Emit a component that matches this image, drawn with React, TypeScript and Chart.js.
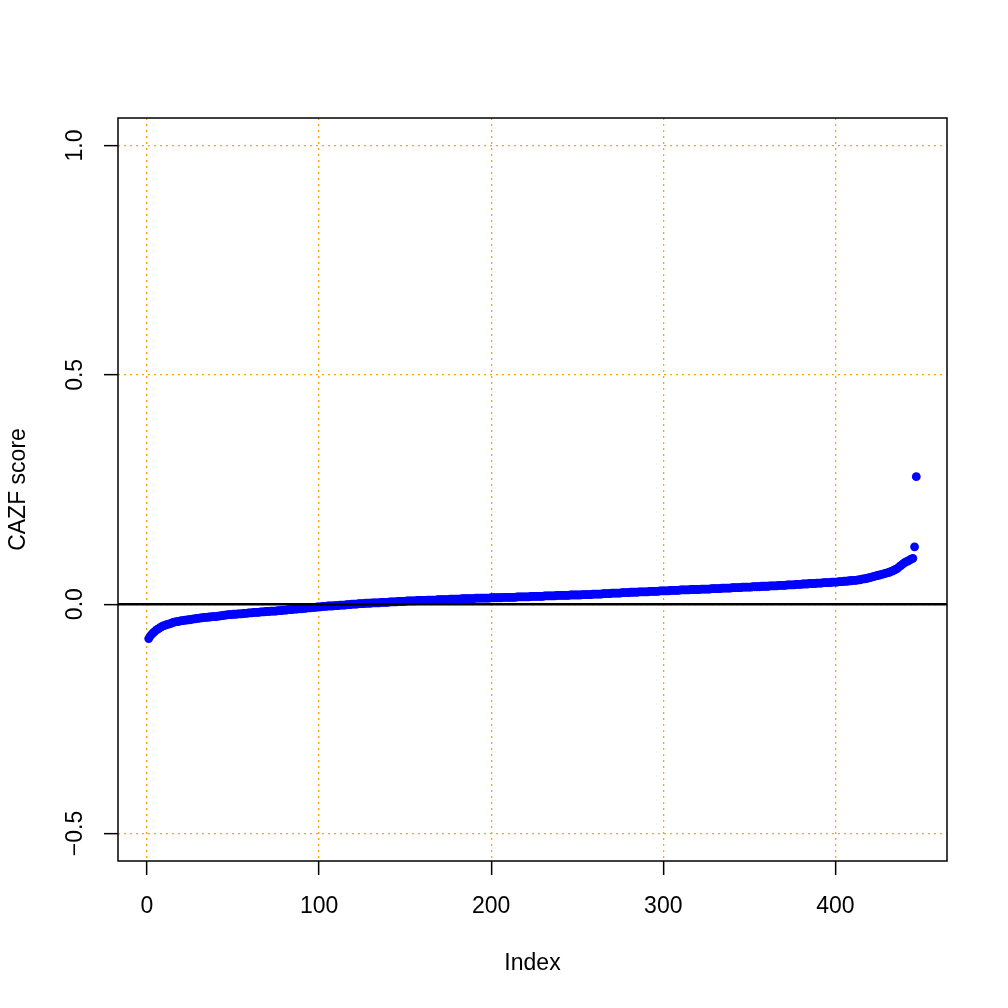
import React, { useEffect, useRef } from "react";
import { Chart, registerables } from "chart.js";

Chart.register(...registerables);

// Sorted CAZF scores (index 1..447)
const cazfScores: number[] = [
  -0.075, -0.069, -0.065, -0.061, -0.058, -0.055, -0.053, -0.050, -0.048, -0.047,
  -0.045, -0.044, -0.043, -0.042, -0.040, -0.039, -0.038, -0.038, -0.037, -0.036,
  -0.036, -0.035, -0.035, -0.034, -0.034, -0.033, -0.032, -0.032, -0.031, -0.031,
  -0.030, -0.030, -0.029, -0.029, -0.029, -0.028, -0.028, -0.027, -0.027, -0.027,
  -0.026, -0.026, -0.025, -0.025, -0.024, -0.024, -0.023, -0.023, -0.023, -0.022,
  -0.022, -0.022, -0.021, -0.021, -0.021, -0.020, -0.020, -0.020, -0.019, -0.019,
  -0.019, -0.018, -0.018, -0.018, -0.018, -0.017, -0.017, -0.017, -0.016, -0.016,
  -0.016, -0.015, -0.015, -0.015, -0.015, -0.014, -0.014, -0.014, -0.013, -0.013,
  -0.013, -0.012, -0.012, -0.012, -0.011, -0.011, -0.011, -0.010, -0.010, -0.010,
  -0.009, -0.009, -0.008, -0.008, -0.008, -0.007, -0.007, -0.007, -0.006, -0.006,
  -0.006, -0.005, -0.005, -0.005, -0.004, -0.004, -0.004, -0.004, -0.003, -0.003,
  -0.003, -0.002, -0.002, -0.002, -0.002, -0.001, -0.001, -0.001, 0.000, 0.000,
  0.000, 0.000, 0.001, 0.001, 0.001, 0.001, 0.002, 0.002, 0.002, 0.002,
  0.003, 0.003, 0.003, 0.003, 0.003, 0.004, 0.004, 0.004, 0.004, 0.004,
  0.005, 0.005, 0.005, 0.005, 0.005, 0.006, 0.006, 0.006, 0.006, 0.006,
  0.007, 0.007, 0.007, 0.007, 0.007, 0.007, 0.008, 0.008, 0.008, 0.008,
  0.008, 0.008, 0.009, 0.009, 0.009, 0.009, 0.009, 0.009, 0.010, 0.010,
  0.010, 0.010, 0.010, 0.010, 0.010, 0.011, 0.011, 0.011, 0.011, 0.011,
  0.011, 0.011, 0.012, 0.012, 0.012, 0.012, 0.012, 0.012, 0.012, 0.012,
  0.013, 0.013, 0.013, 0.013, 0.013, 0.013, 0.013, 0.013, 0.013, 0.014,
  0.014, 0.014, 0.014, 0.014, 0.014, 0.014, 0.015, 0.015, 0.015, 0.015,
  0.015, 0.015, 0.015, 0.015, 0.016, 0.016, 0.016, 0.016, 0.016, 0.016,
  0.016, 0.016, 0.017, 0.017, 0.017, 0.017, 0.017, 0.017, 0.017, 0.017,
  0.018, 0.018, 0.018, 0.018, 0.018, 0.018, 0.018, 0.019, 0.019, 0.019,
  0.019, 0.019, 0.019, 0.019, 0.019, 0.020, 0.020, 0.020, 0.020, 0.020,
  0.020, 0.020, 0.021, 0.021, 0.021, 0.021, 0.021, 0.021, 0.022, 0.022,
  0.022, 0.022, 0.022, 0.022, 0.023, 0.023, 0.023, 0.023, 0.023, 0.024,
  0.024, 0.024, 0.024, 0.024, 0.024, 0.025, 0.025, 0.025, 0.025, 0.025,
  0.026, 0.026, 0.026, 0.026, 0.026, 0.027, 0.027, 0.027, 0.027, 0.027,
  0.027, 0.028, 0.028, 0.028, 0.028, 0.028, 0.028, 0.029, 0.029, 0.029,
  0.029, 0.029, 0.029, 0.030, 0.030, 0.030, 0.030, 0.030, 0.030, 0.031,
  0.031, 0.031, 0.031, 0.031, 0.031, 0.032, 0.032, 0.032, 0.032, 0.032,
  0.032, 0.033, 0.033, 0.033, 0.033, 0.033, 0.033, 0.034, 0.034, 0.034,
  0.034, 0.034, 0.034, 0.035, 0.035, 0.035, 0.035, 0.035, 0.035, 0.036,
  0.036, 0.036, 0.036, 0.036, 0.036, 0.037, 0.037, 0.037, 0.037, 0.037,
  0.037, 0.038, 0.038, 0.038, 0.038, 0.038, 0.039, 0.039, 0.039, 0.039,
  0.039, 0.040, 0.040, 0.040, 0.040, 0.040, 0.041, 0.041, 0.041, 0.041,
  0.041, 0.042, 0.042, 0.042, 0.042, 0.042, 0.043, 0.043, 0.043, 0.043,
  0.044, 0.044, 0.044, 0.044, 0.045, 0.045, 0.045, 0.045, 0.046, 0.046,
  0.046, 0.046, 0.047, 0.047, 0.047, 0.047, 0.047, 0.048, 0.048, 0.048,
  0.048, 0.049, 0.049, 0.049, 0.050, 0.050, 0.050, 0.051, 0.051, 0.052,
  0.052, 0.052, 0.053, 0.053, 0.054, 0.055, 0.055, 0.056, 0.057, 0.058,
  0.059, 0.060, 0.061, 0.062, 0.063, 0.064, 0.065, 0.066, 0.067, 0.068,
  0.069, 0.071, 0.072, 0.074, 0.076, 0.078, 0.081, 0.084, 0.087, 0.090,
  0.092, 0.094, 0.096, 0.098, 0.100, 0.125, 0.278,
];

const xTicks: number[] = [0, 100, 200, 300, 400];
const yTicks: number[] = [-0.5, 0, 0.5, 1.0];
const yTickLabels: string[] = ["\u22120.5", "0.0", "0.5", "1.0"];
const xTitle = "Index";
const yTitle = "CAZF score";

const FONT = "'Liberation Sans', Arial, Helvetica, sans-serif";
const FSIZE = 23;

export default function App() {
  const canvasRef = useRef<HTMLCanvasElement | null>(null);

  useEffect(() => {
    document.body.style.margin = "0";
    const canvas = canvasRef.current;
    if (!canvas) return;

    const n = cazfScores.length;
    const xPad = (n - 1) * 0.04;
    const yMin = -0.5;
    const yMax = 1.0;
    const yPad = (yMax - yMin) * 0.04;

    const decorPlugin = {
      id: "rDecor",
      afterDatasetsDraw(chart: any) {
        const { ctx, chartArea, scales } = chart;
        const y0 = scales.y.getPixelForValue(0);
        ctx.save();
        ctx.strokeStyle = "#000";
        ctx.lineWidth = 2.5;
        ctx.beginPath();
        ctx.moveTo(chartArea.left, y0);
        ctx.lineTo(chartArea.right, y0);
        ctx.stroke();
        ctx.restore();
      },
      afterDraw(chart: any) {
        const { ctx, chartArea, scales } = chart;
        ctx.save();
        ctx.strokeStyle = "#000";
        ctx.lineWidth = 1.5;
        ctx.strokeRect(
          chartArea.left,
          chartArea.top,
          chartArea.right - chartArea.left,
          chartArea.bottom - chartArea.top
        );
        ctx.fillStyle = "#000";
        ctx.font = `${FSIZE}px ${FONT}`;
        ctx.textAlign = "center";
        ctx.textBaseline = "middle";
        yTicks.forEach((v, i) => {
          const py = scales.y.getPixelForValue(v);
          ctx.save();
          ctx.translate(76, py);
          ctx.rotate(-Math.PI / 2);
          ctx.fillText(yTickLabels[i], 0, 0);
          ctx.restore();
        });
        ctx.restore();
      },
    };

    const gridOpts = {
      color: "#FFA500",
      lineWidth: 1.3,
      drawTicks: true,
      tickLength: 14,
      tickColor: "#000",
      tickWidth: 1.5,
      tickBorderDash: [],
    };

    const chart = new Chart(canvas, {
      type: "scatter",
      data: {
        datasets: [
          {
            data: cazfScores.map((v, i) => ({ x: i + 1, y: v })),
            backgroundColor: "#0000FF",
            borderColor: "#0000FF",
            borderWidth: 0,
            pointRadius: 4.4,
            pointHoverRadius: 4.4,
          },
        ],
      },
      options: {
        animation: false,
        responsive: false,
        maintainAspectRatio: false,
        devicePixelRatio: 1,
        layout: { padding: { top: 118, right: 61, left: 0, bottom: 0 } },
        plugins: { legend: { display: false }, tooltip: { enabled: false } },
        scales: {
          x: {
            type: "linear",
            position: "bottom",
            min: 1 - xPad,
            max: n + xPad,
            z: 1,
            afterBuildTicks: (s: any) => {
              s.ticks = xTicks.map((v) => ({ value: v }));
            },
            afterFit: (s: any) => {
              s.height = 147;
            },
            grid: gridOpts as any,
            border: { display: false, dash: [2, 4] },
            ticks: {
              color: "#000",
              font: { family: FONT, size: FSIZE },
              padding: 18,
              maxRotation: 0,
              minRotation: 0,
              autoSkip: false,
            },
            title: {
              display: true,
              text: xTitle,
              color: "#000",
              font: { family: FONT, size: FSIZE },
              padding: { top: 0, bottom: 31 },
            },
          },
          y: {
            type: "linear",
            position: "left",
            min: yMin - yPad,
            max: yMax + yPad,
            z: 1,
            afterBuildTicks: (s: any) => {
              s.ticks = yTicks.map((v) => ({ value: v }));
            },
            afterFit: (s: any) => {
              s.width = 118;
            },
            grid: gridOpts as any,
            border: { display: false, dash: [2, 4] },
            ticks: { display: false },
            title: {
              display: true,
              text: yTitle,
              color: "#000",
              font: { family: FONT, size: FSIZE },
              padding: { top: 5, bottom: 0 },
            },
          },
        },
      },
      plugins: [decorPlugin],
    });

    return () => {
      chart.destroy();
    };
  }, []);

  return (
    <div style={{ width: 1008, height: 1008, background: "#fff" }}>
      <canvas
        ref={canvasRef}
        width={1008}
        height={1008}
        style={{ display: "block", width: 1008, height: 1008 }}
      />
    </div>
  );
}
